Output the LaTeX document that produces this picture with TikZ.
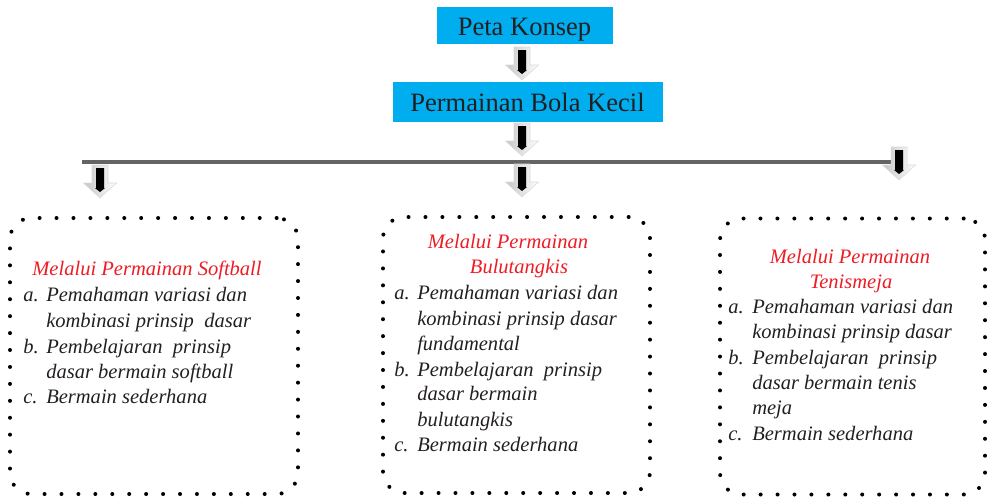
\documentclass[tikz,border=0pt]{standalone}
\usepackage{fontspec}
\setmainfont{Liberation Serif}
\definecolor{hdcyan}{RGB}{0,174,239}
\definecolor{txtc}{RGB}{35,31,32}
\definecolor{ttlred}{RGB}{237,28,36}
\definecolor{linegray}{RGB}{100,100,100}
\tikzset{
  x=0.75pt, y=-0.75pt,
  header/.style={fill=hdcyan, text=txtc, inner sep=0, font=\fontsize{19.9}{22}\selectfont},
  dotbox/.style={draw=black, line width=3pt, line cap=round, dash pattern=on 0pt off 12.7pt, rounded corners=16pt, inner sep=0},
  txt/.style={inner sep=0, anchor=base west, text=txtc, font=\fontsize{15.4}{18}\itshape},
  ttl/.style={inner sep=0, anchor=base, text=ttlred, font=\fontsize{15.4}{18}\itshape},
  barrow/.pic={
    \shade[left color=gray!45, right color=white, draw=gray!30, line width=0.4pt]
      (-8,0) -- (8,0) -- (8,18) -- (16.5,18) -- (0,33) -- (-16.5,18) -- (-8,18) -- cycle;
    \fill[black] (-4,3) -- (4,3) -- (4,23) -- (5,23) -- (0,27) -- (-5,23) -- (-4,23) -- cycle;
  }
}
\begin{document}
\begin{tikzpicture}
\useasboundingbox (0,0) rectangle (987,497);
% headers
\node[header, minimum width=132pt, minimum height=28pt] (peta) at (524.5,25.5) {};
\node[inner sep=0, anchor=base, text=txtc, font=\fontsize{19.9}{22}\selectfont] (petat) at (524.5,35) {Peta Konsep};
\node[header, minimum width=202.5pt, minimum height=30pt] (bola) at (527.5,102) {};
\node[inner sep=0, anchor=base, text=txtc, font=\fontsize{19.9}{22}\selectfont] (bolat) at (527.5,111) {Permainan Bola Kecil};
% horizontal bar
\coordinate (hl) at (82,162);
\coordinate (hr) at (895,162);
\draw[linegray, line width=2.4pt] (hl) -- (hr);
% block arrows
\pic at (522,47) {barrow};
\pic at (522,123) {barrow};
\pic at (522,164) {barrow};
\pic at (100,165) {barrow};
\pic at (899,147) {barrow};
% dotted boxes
\node[dotbox, minimum width=216pt, minimum height=207pt] (box1) at (154,356) {};
\node[dotbox, minimum width=200.25pt, minimum height=207pt] (box2) at (516.5,355) {};
\node[dotbox, minimum width=198.75pt, minimum height=207pt] (box3) at (852.5,356.5) {};
% box 1
\node[ttl] (t1) at (147,275) {Melalui Permainan Softball};
\node[txt] (a1) at (23,301) {a.};
\node[txt] (a1t) at (46,301) {Pemahaman variasi dan};
\node[txt] (a1u) at (46,327) {kombinasi prinsip\ \ dasar};
\node[txt] (b1) at (23,353) {b.};
\node[txt] (b1t) at (46,353) {Pembelajaran\ \ prinsip};
\node[txt] (b1u) at (46,378) {dasar bermain softball};
\node[txt] (c1) at (23,403) {c.};
\node[txt] (c1t) at (46,403) {Bermain sederhana};
% box 2
\node[ttl] (t2a) at (508,248) {Melalui Permainan};
\node[ttl] (t2b) at (519,273) {Bulutangkis};
\node[txt] (a2) at (394,299) {a.};
\node[txt] (a2t) at (417,299) {Pemahaman variasi dan};
\node[txt] (a2u) at (417,325) {kombinasi prinsip dasar};
\node[txt] (a2v) at (417,350) {fundamental};
\node[txt] (b2) at (394,376) {b.};
\node[txt] (b2t) at (417,376) {Pembelajaran\ \ prinsip};
\node[txt] (b2u) at (417,400) {dasar bermain};
\node[txt] (b2v) at (417,426) {bulutangkis};
\node[txt] (c2) at (394,451) {c.};
\node[txt] (c2t) at (417,451) {Bermain sederhana};
% box 3
\node[ttl] (t3a) at (850,263) {Melalui Permainan};
\node[ttl] (t3b) at (851,288) {Tenismeja};
\node[txt] (a3) at (728,313) {a.};
\node[txt] (a3t) at (752,313) {Pemahaman variasi dan};
\node[txt] (a3u) at (752,338) {kombinasi prinsip dasar};
\node[txt] (b3) at (728,364) {b.};
\node[txt] (b3t) at (752,364) {Pembelajaran\ \ prinsip};
\node[txt] (b3u) at (752,389) {dasar bermain tenis};
\node[txt] (b3v) at (752,414) {meja};
\node[txt] (c3) at (728,440) {c.};
\node[txt] (c3t) at (752,440) {Bermain sederhana};
\end{tikzpicture}
\end{document}
